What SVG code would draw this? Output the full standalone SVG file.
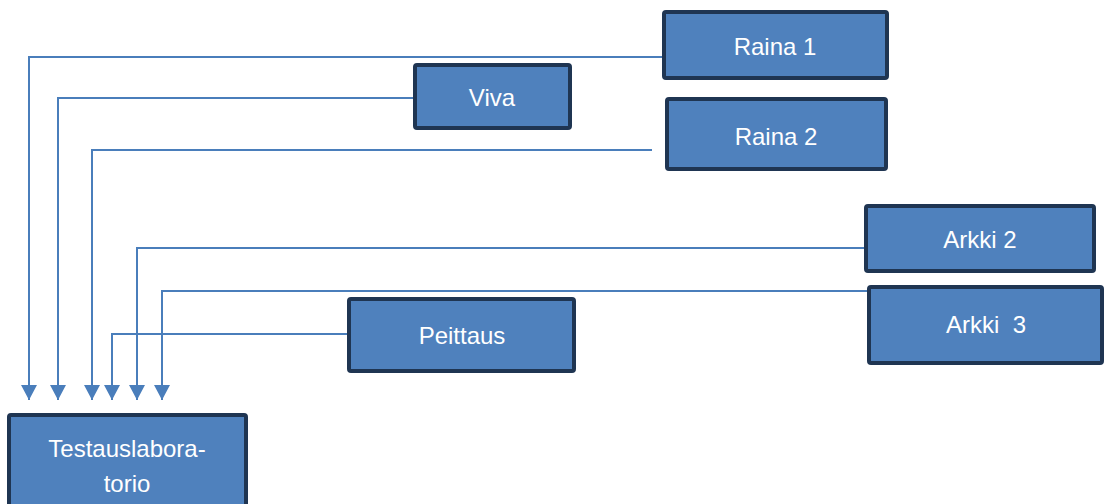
<svg xmlns="http://www.w3.org/2000/svg" width="1104" height="504" viewBox="0 0 1104 504">
  <defs>
    <style>
      .box { fill: #4F81BD; stroke: #1F3552; stroke-width: 4; }
      .lbl { font-family: "Liberation Sans", "Open Sans", sans-serif; font-size: 24px; fill: #FFFFFF; text-anchor: middle; }
      .link { fill: none; stroke: #4A7EBB; stroke-width: 2; }
    </style>
    <marker id="arrow" markerWidth="15" markerHeight="16" viewBox="0 0 15 16" refX="15" refY="8" orient="auto" markerUnits="userSpaceOnUse">
      <path d="M0,0 L15,8 L0,16 Z" fill="#4A7EBB"/>
    </marker>
  </defs>

  <rect width="1104" height="504" fill="#FFFFFF"/>

  <!-- connectors: each source feeds a vertical drop into the lab -->
  <g id="connectors">
    <path class="link" d="M664,57 H29 V400" marker-end="url(#arrow)"/>
    <path class="link" d="M445,98 H58 V400" marker-end="url(#arrow)"/>
    <path class="link" d="M652,150 H92 V400" marker-end="url(#arrow)"/>
    <path class="link" d="M866,248 H137 V400" marker-end="url(#arrow)"/>
    <path class="link" d="M869,291 H162 V400" marker-end="url(#arrow)"/>
    <path class="link" d="M349,334 H112 V400" marker-end="url(#arrow)"/>
  </g>

  <g id="raina1">
    <rect class="box" x="664" y="12" width="223" height="66" rx="2"/>
    <text class="lbl" x="775" y="55">Raina 1</text>
  </g>
  <g id="viva">
    <rect class="box" x="415" y="65" width="155" height="63" rx="2"/>
    <text class="lbl" x="492" y="106">Viva</text>
  </g>
  <g id="raina2">
    <rect class="box" x="667" y="99" width="219" height="70" rx="2"/>
    <text class="lbl" x="776" y="145">Raina 2</text>
  </g>
  <g id="arkki2">
    <rect class="box" x="866" y="206" width="228" height="65" rx="2"/>
    <text class="lbl" x="980" y="248">Arkki 2</text>
  </g>
  <g id="arkki3">
    <rect class="box" x="869" y="287" width="233" height="76" rx="2"/>
    <text class="lbl" x="986" y="333" xml:space="preserve">Arkki  3</text>
  </g>
  <g id="peittaus">
    <rect class="box" x="349" y="299" width="225" height="72" rx="2"/>
    <text class="lbl" x="462" y="344">Peittaus</text>
  </g>
  <g id="testauslaboratorio">
    <rect class="box" x="9" y="415" width="237" height="95" rx="2"/>
    <text class="lbl" x="127" y="457">Testauslabora-</text>
    <text class="lbl" x="127" y="492">torio</text>
  </g>
</svg>
